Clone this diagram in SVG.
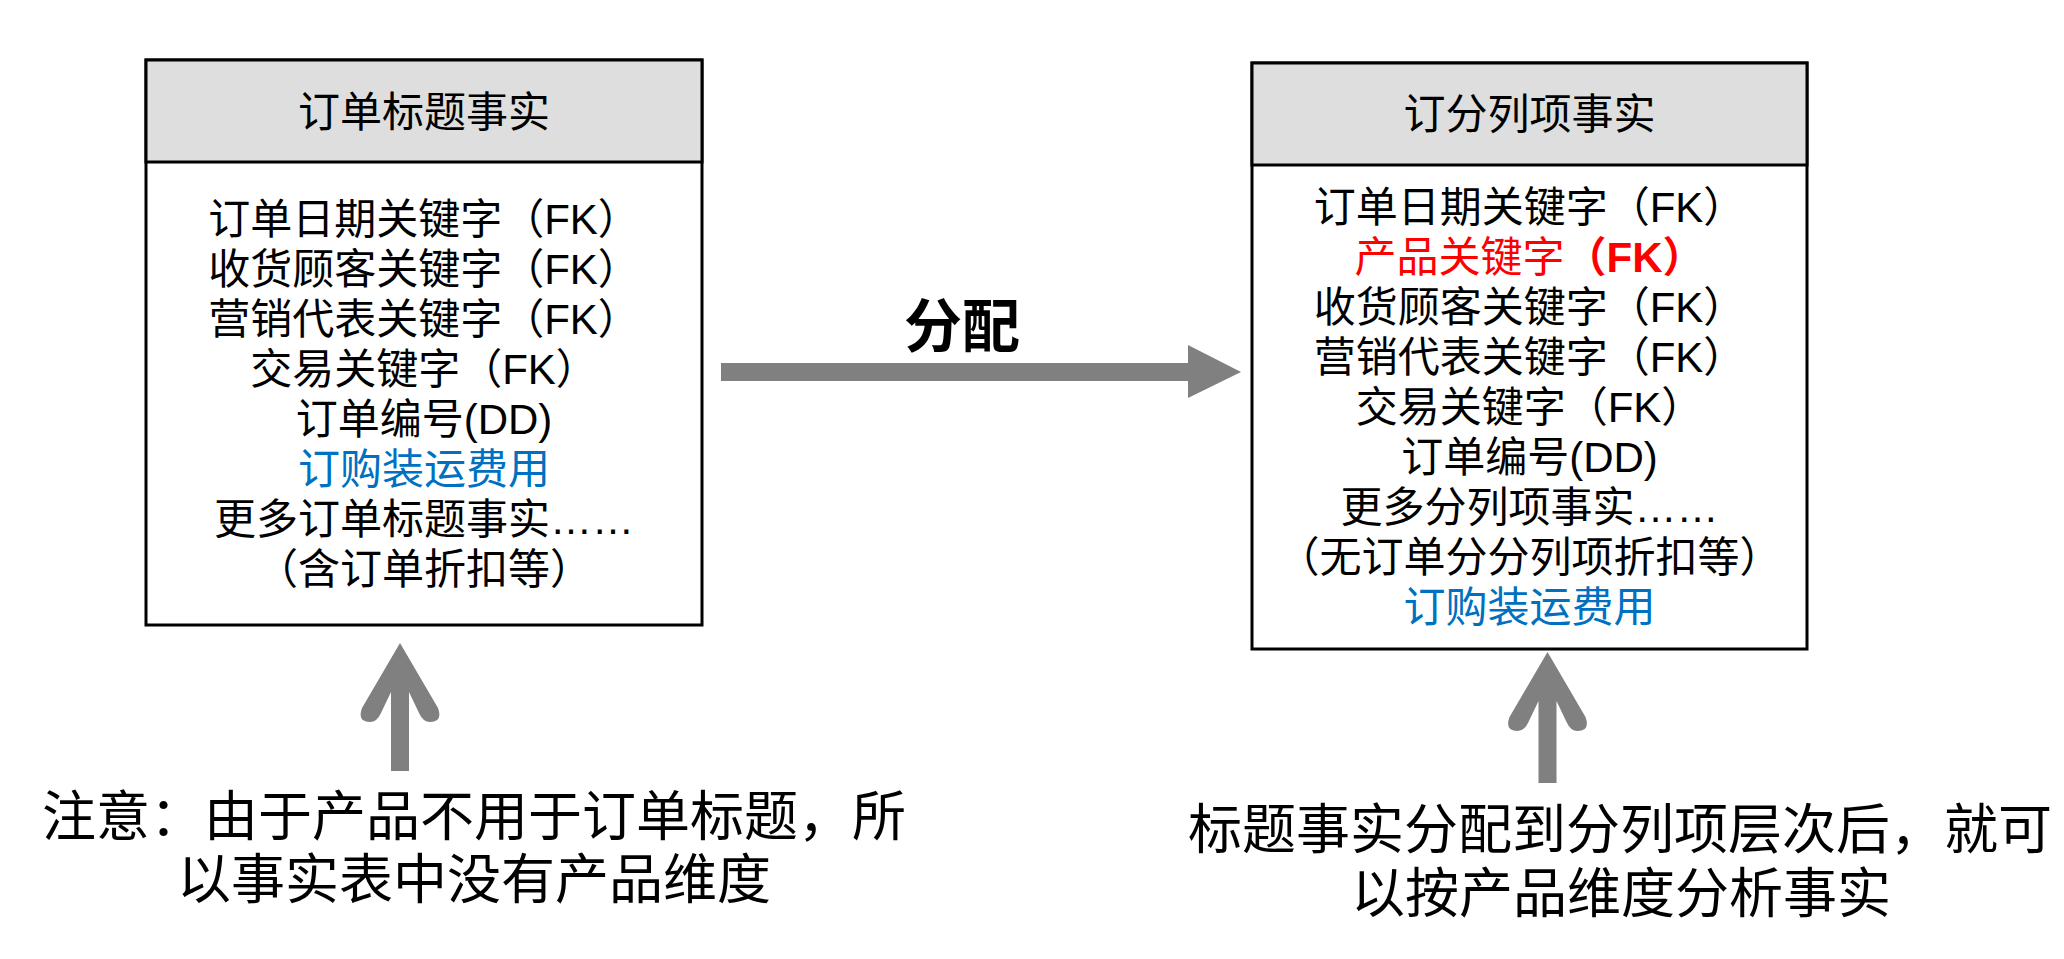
<svg xmlns="http://www.w3.org/2000/svg" width="2064" height="959" viewBox="0 0 2064 959">
<style>
  text { font-family: 'Liberation Sans', 'Noto Sans CJK SC', sans-serif; fill: #000; }
  .title { font-size: 42px; text-anchor: middle; }
  .body { font-size: 42px; text-anchor: middle; }
  .blue { fill: #0070C0; }
  .red { fill: #FF0000; }
  .note { font-size: 54px; text-anchor: middle; }
  .label { font-size: 58px; font-weight: bold; text-anchor: middle; }
  .box { fill: #fff; stroke: #000; stroke-width: 3; }
  .head { fill: #dedede; stroke: #000; stroke-width: 3; }
  .arrow { fill: #808080; stroke: none; }
</style>
<rect width="2064" height="959" fill="#fff"/>

<g id="order-header-fact">
  <rect class="box" x="146" y="60" width="556" height="565"/>
  <rect class="head" x="146" y="60" width="556" height="102"/>
  <text class="title" x="424" y="127">订单标题事实</text>
  <text class="body" x="424" y="234">订单日期关键字（FK）</text>
  <text class="body" x="424" y="284">收货顾客关键字（FK）</text>
  <text class="body" x="424" y="334">营销代表关键字（FK）</text>
  <text class="body" x="424" y="384">交易关键字（FK）</text>
  <text class="body" x="424" y="434">订单编号(DD)</text>
  <text class="body blue" x="424" y="484">订购装运费用</text>
  <text class="body" x="424" y="534">更多订单标题事实……</text>
  <text class="body" x="424" y="584">（含订单折扣等）</text>
</g>

<g id="order-line-fact">
  <rect class="box" x="1252" y="63" width="555" height="586"/>
  <rect class="head" x="1252" y="63" width="555" height="102"/>
  <text class="title" x="1529.5" y="129">订分列项事实</text>
  <text class="body" x="1529.5" y="222">订单日期关键字（FK）</text>
  <text class="body red" x="1529.5" y="272">产品关键字<tspan font-weight="bold">（FK）</tspan></text>
  <text class="body" x="1529.5" y="322">收货顾客关键字（FK）</text>
  <text class="body" x="1529.5" y="372">营销代表关键字（FK）</text>
  <text class="body" x="1529.5" y="422">交易关键字（FK）</text>
  <text class="body" x="1529.5" y="472">订单编号(DD)</text>
  <text class="body" x="1529.5" y="522">更多分列项事实……</text>
  <text class="body" x="1529.5" y="572">（无订单分分列项折扣等）</text>
  <text class="body blue" x="1529.5" y="622">订购装运费用</text>
</g>

<g id="note-left">
  <text class="note" x="474" y="836">注意：由于产品不用于订单标题，所</text>
  <text class="note" x="474" y="899">以事实表中没有产品维度</text>
</g>

<g id="note-right">
  <text class="note" x="1620" y="849">标题事实分配到分列项层次后，就可</text>
  <text class="note" x="1621" y="913">以按产品维度分析事实</text>
</g>

<g id="connectors">
  <g id="allocate-arrow">
    <rect class="arrow" x="721" y="363" width="469" height="18"/>
    <polygon class="arrow" points="1188,345 1241,372 1188,398"/>
    <text class="label" x="962" y="347">分配</text>
  </g>
  <path id="arrow-left-up" class="arrow" d="M400,643 L362,708 Q357,722 370,722 Q377,722 381,713 L391,692 L391,771 L409,771 L409,692 L419,713 Q423,722 430,722 Q443,722 438,708 Z"/>
  <path id="arrow-right-up" class="arrow" d="M1547.5,652 L1509.5,717 Q1504.5,731 1517.5,731 Q1524.5,731 1528.5,722 L1538.5,701 L1538.5,783 L1556.5,783 L1556.5,701 L1566.5,722 Q1570.5,731 1577.5,731 Q1590.5,731 1585.5,717 Z"/>
</g>
</svg>
